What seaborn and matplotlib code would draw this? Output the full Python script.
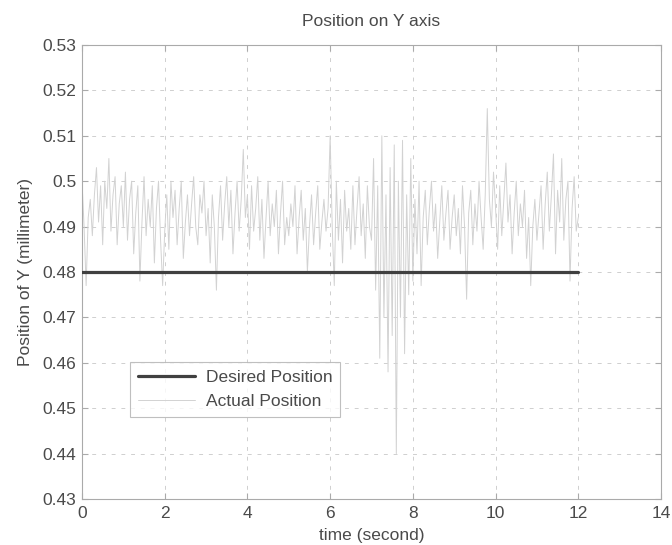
import numpy as np
import pandas as pd
import matplotlib
matplotlib.use("Agg")
import matplotlib.pyplot as plt
import seaborn as sns

# Sampled Y position (mm), one row per second, 0.05 s sample period
actual_rows = [
    [0.500, 0.490, 0.477, 0.492, 0.496, 0.488, 0.497, 0.503, 0.491, 0.499, 0.486, 0.500, 0.494, 0.505, 0.489, 0.497, 0.501, 0.486, 0.495, 0.499],
    [0.490, 0.502, 0.487, 0.496, 0.500, 0.484, 0.493, 0.499, 0.478, 0.491, 0.501, 0.488, 0.496, 0.490, 0.499, 0.482, 0.494, 0.500, 0.487, 0.477],
    [0.489, 0.497, 0.485, 0.500, 0.492, 0.498, 0.486, 0.494, 0.500, 0.483, 0.491, 0.497, 0.488, 0.495, 0.501, 0.490, 0.486, 0.497, 0.493, 0.500],
    [0.488, 0.494, 0.482, 0.497, 0.490, 0.476, 0.492, 0.499, 0.487, 0.495, 0.501, 0.490, 0.498, 0.484, 0.493, 0.500, 0.489, 0.496, 0.507, 0.492],
    [0.497, 0.485, 0.499, 0.489, 0.494, 0.501, 0.487, 0.496, 0.483, 0.492, 0.500, 0.488, 0.495, 0.490, 0.498, 0.484, 0.493, 0.500, 0.486, 0.492],
    [0.488, 0.495, 0.490, 0.499, 0.484, 0.492, 0.498, 0.487, 0.494, 0.480, 0.490, 0.497, 0.486, 0.493, 0.499, 0.485, 0.491, 0.496, 0.489, 0.494],
    [0.510, 0.490, 0.477, 0.500, 0.487, 0.496, 0.482, 0.498, 0.489, 0.494, 0.485, 0.499, 0.486, 0.494, 0.501, 0.488, 0.495, 0.483, 0.499, 0.490],
    [0.487, 0.505, 0.476, 0.499, 0.461, 0.510, 0.470, 0.497, 0.458, 0.503, 0.466, 0.508, 0.440, 0.500, 0.470, 0.509, 0.462, 0.497, 0.475, 0.505],
    [0.478, 0.496, 0.484, 0.500, 0.477, 0.492, 0.498, 0.486, 0.494, 0.500, 0.489, 0.495, 0.483, 0.491, 0.499, 0.487, 0.493, 0.498, 0.485, 0.492],
    [0.497, 0.488, 0.494, 0.484, 0.499, 0.490, 0.474, 0.493, 0.498, 0.486, 0.495, 0.489, 0.500, 0.492, 0.485, 0.497, 0.516, 0.496, 0.490, 0.502],
    [0.494, 0.485, 0.499, 0.488, 0.496, 0.504, 0.491, 0.497, 0.484, 0.493, 0.500, 0.488, 0.495, 0.490, 0.498, 0.483, 0.492, 0.477, 0.490, 0.496],
    [0.487, 0.493, 0.499, 0.485, 0.495, 0.502, 0.489, 0.497, 0.506, 0.484, 0.498, 0.491, 0.505, 0.487, 0.496, 0.500, 0.478, 0.494, 0.501, 0.489],
]
actual_last = [0.492]
sample_period = 0.05

desired_time = [0.0, 12.0]
desired_value = [0.48, 0.48]

x_ticks = [0, 2, 4, 6, 8, 10, 12, 14]
y_ticks = [0.43, 0.44, 0.45, 0.46, 0.47, 0.48, 0.49, 0.50, 0.51, 0.52, 0.53]
y_tick_labels = ["0.43", "0.44", "0.45", "0.46", "0.47", "0.48", "0.49", "0.5", "0.51", "0.52", "0.53"]

actual_value = [v for row in actual_rows for v in row] + actual_last
actual_time = [round(i * sample_period, 4) for i in range(len(actual_value))]

actual_df = pd.DataFrame({"time": actual_time, "pos": actual_value})
desired_df = pd.DataFrame({"time": desired_time, "pos": desired_value})

sns.set_style("white")
plt.rcParams["font.family"] = ["Liberation Sans", "DejaVu Sans"]

FS = 12.5
TXT = "#4a4a4a"

fig = plt.figure(figsize=(6.72, 5.45), dpi=100)
ax = fig.add_axes([82 / 672, 1 - 499 / 545, 579 / 672, 454 / 545])

sns.lineplot(data=desired_df, x="time", y="pos", ax=ax, color="#404040",
             linewidth=2.3, label="Desired Position", zorder=3)
sns.lineplot(data=actual_df, x="time", y="pos", ax=ax, color="#d2d2d2",
             linewidth=0.7, label="Actual Position", zorder=2)

ax.set_xlim(0, 14)
ax.set_ylim(0.43, 0.53)
ax.set_xticks(x_ticks)
ax.set_xticklabels([str(t) for t in x_ticks])
ax.set_yticks(y_ticks)
ax.set_yticklabels(y_tick_labels)

ax.grid(True, linestyle=(0, (4, 6)), color="#cfcfcf", linewidth=0.7)
ax.set_axisbelow(True)
for side in ["left", "right", "top", "bottom"]:
    ax.spines[side].set_visible(True)
    ax.spines[side].set_color("#aaaaaa")
    ax.spines[side].set_linewidth(0.8)

ax.tick_params(axis="both", direction="in", length=4, color="#aaaaaa",
               labelsize=FS, labelcolor=TXT, top=True, right=True,
               bottom=True, left=True, pad=4)
ax.tick_params(axis="x", pad=5)

ax.set_title("Position on Y axis", fontsize=FS, color=TXT, pad=14)
ax.set_xlabel("time (second)", fontsize=FS, color=TXT, labelpad=5)
ax.set_ylabel("Position of Y (millimeter)", fontsize=FS, color=TXT, labelpad=7)

leg = ax.legend(loc="lower left", bbox_to_anchor=(0.083, 0.18), fontsize=FS,
                frameon=True, fancybox=False, handlelength=3.3,
                borderpad=0.45, labelspacing=0.55, handletextpad=0.6,
                borderaxespad=0.0)
leg.get_frame().set_edgecolor("#b0b0b0")
leg.get_frame().set_linewidth(0.8)
for txt in leg.get_texts():
    txt.set_color(TXT)

fig.savefig("out.png", dpi=100)
